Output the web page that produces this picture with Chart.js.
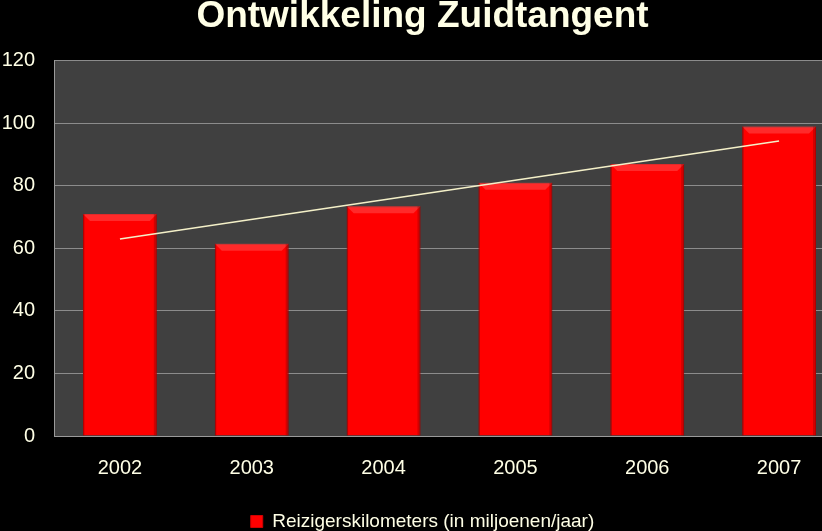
<!DOCTYPE html>
<html>
<head>
<meta charset="utf-8">
<script src="https://cdn.jsdelivr.net/npm/chart.js@4/dist/chart.umd.min.js"></script>
<style>
  html, body { margin: 0; padding: 0; background: #000; overflow: hidden; }
  #wrap { width: 848px; height: 531px; }
</style>
</head>
<body>
<div id="wrap"><canvas id="myChart"></canvas></div>
<script>
// data
const years = ['2002', '2003', '2004', '2005', '2006', '2007']
const reizigerskm = [71, 61.5, 73.5, 81, 87, 99]
// trend line (Excel linear trendline) - only its two ends are visible
const trend = [63, null, null, null, null, 94.3]

const cream = '#FFFFE6'
const fontFam = '"Liberation Sans", Arial, sans-serif'

// dark grey plot area
const plotBg = {
  id: 'plotBg',
  beforeDraw(chart) {
    const {ctx, chartArea: a} = chart
    ctx.save()
    ctx.fillStyle = '#404040'
    ctx.fillRect(a.left, a.top, a.right - a.left, a.bottom - a.top)
    ctx.restore()
  }
}

// little bevel on top of each bar
const bevel = {
  id: 'bevel',
  afterDatasetDraw(chart, args) {
    if (args.index !== 0) return
    const ctx = chart.ctx
    args.meta.data.forEach(bar => {
      const l = bar.x - bar.width / 2, r = bar.x + bar.width / 2
      const t = bar.y, b = bar.base, d = 7
      ctx.save()
      ctx.fillStyle = 'rgba(255,120,120,0.35)'
      ctx.beginPath()
      ctx.moveTo(l, t); ctx.lineTo(r, t); ctx.lineTo(r - d, t + d); ctx.lineTo(l + d, t + d)
      ctx.closePath(); ctx.fill()
      ctx.fillStyle = 'rgba(110,0,0,0.3)'
      ctx.fillRect(r - 3, t, 3, b - t)
      ctx.fillRect(l, t, 1.5, b - t)
      ctx.restore()
    })
  }
}

new Chart('myChart', {
  type: 'bar',
  data: {
    labels: years,
    datasets: [{
      label: 'Reizigerskilometers (in miljoenen/jaar)',
      data: reizigerskm,
      backgroundColor: '#FF0000',
      borderColor: '#D00000',
      borderWidth: 1,
      barPercentage: 0.56,
      categoryPercentage: 1,
      order: 2
    }, {
      type: 'line',
      label: 'trend',
      data: trend,
      spanGaps: true,
      borderColor: '#F4F0C8',
      borderWidth: 1.5,
      pointRadius: 0,
      order: 1
    }]
  },
  options: {
    responsive: true,
    maintainAspectRatio: false,
    animation: false,
    layout: {padding: {left: 0, right: 3, top: 0, bottom: -10}},
    plugins: {
      title: {
        display: true,
        text: 'Ontwikkeling Zuidtangent',
        color: cream,
        font: {family: fontFam, size: 37, weight: 'bold', lineHeight: 0.75},
        padding: {top: 3, bottom: 30}
      },
      legend: {
        position: 'bottom',
        labels: {
          color: cream,
          font: {family: fontFam, size: 19},
          boxWidth: 12, boxHeight: 12,
          padding: 2,
          filter: item => item.datasetIndex === 0
        }
      },
      tooltip: {enabled: false}
    },
    scales: {
      x: {
        grid: {display: false},
        border: {color: '#9a9a9a'},
        ticks: {color: cream, font: {family: fontFam, size: 20}, padding: 12},
        afterFit: s => { s.height += 18 }
      },
      y: {
        min: 0, max: 120,
        ticks: {stepSize: 20, color: cream, font: {family: fontFam, size: 20}, padding: 19},
        grid: {color: '#8c8c8c', drawTicks: false},
        border: {color: '#9a9a9a'},
        afterFit: s => { s.width = 54 }
      }
    }
  },
  plugins: [plotBg, bevel]
})
</script>
</body>
</html>
